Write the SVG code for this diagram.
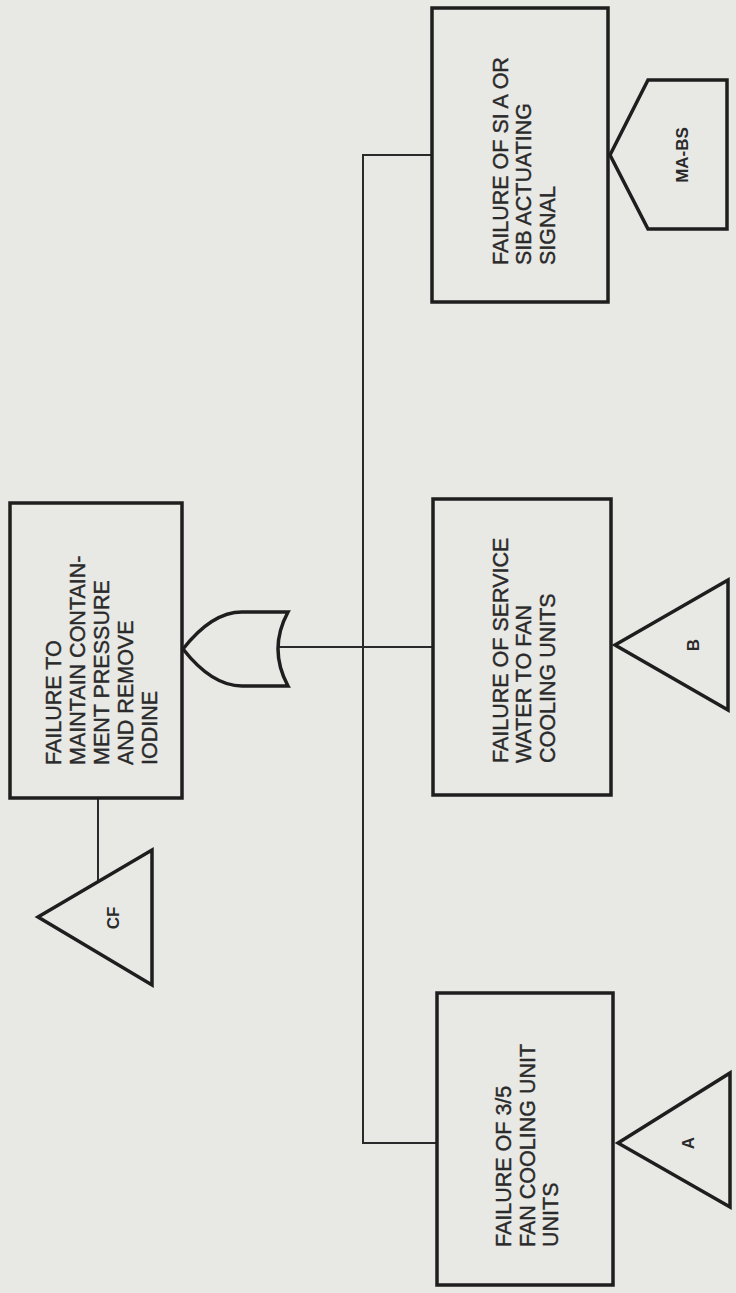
<svg xmlns="http://www.w3.org/2000/svg" width="736" height="1293" viewBox="0 0 736 1293">
<style>
.bg{fill:#e8e8e5}
.box{fill:#e8e8e5;stroke:#1e1e1e;stroke-width:3.5}
.sym{fill:#e8e8e5;stroke:#1e1e1e;stroke-width:3.5;stroke-linejoin:miter}
.wire{fill:none;stroke:#2a2a2a;stroke-width:2}
.t{font-family:"Liberation Sans",Arial,sans-serif;font-size:21.5px;fill:#2a2a2a;stroke:#2a2a2a;stroke-width:0.4}
.lbl{font-family:"Liberation Sans",Arial,sans-serif;font-size:17px;font-weight:bold;fill:#2a2a2a;text-anchor:middle}
</style>
<rect class="bg" x="0" y="0" width="736" height="1293"/>
<g id="connectors">
<line class="wire" x1="98" y1="798" x2="98" y2="882"/>
<line class="wire" x1="279" y1="647" x2="433" y2="647"/>
<polyline class="wire" points="433,155 363,155 363,1143 437,1143"/>
</g>
<g id="top-event">
<rect class="box" x="10" y="503" width="172" height="295"/>
<g class="t">
<text transform="translate(61,765) rotate(-90)">FAILURE TO</text>
<text transform="translate(85,765) rotate(-90)">MAINTAIN CONTAIN-</text>
<text transform="translate(109,765) rotate(-90)">MENT PRESSURE</text>
<text transform="translate(133,765) rotate(-90)">AND REMOVE</text>
<text transform="translate(157,765) rotate(-90)">IODINE</text>
</g>
</g>
<g id="or-gate">
<path class="sym" d="M183,649 Q212,612 242,612 L288,612 Q268,649 288,686 L242,686 Q212,686 183,649 Z"/>
</g>
<g id="transfer-CF">
<polygon class="sym" points="38,917 152,850 152,985"/>
<text class="lbl" transform="translate(113,918) rotate(-90)" dy="6">CF</text>
</g>
<g id="si-signal">
<rect class="box" x="432" y="8" width="176" height="294"/>
<g class="t">
<text transform="translate(508,265) rotate(-90)">FAILURE OF SI A OR</text>
<text transform="translate(531,265) rotate(-90)">SIB ACTUATING</text>
<text transform="translate(555,265) rotate(-90)">SIGNAL</text>
</g>
</g>
<g id="transfer-MA-BS">
<polygon class="sym" points="610,155 648,80 727,80 727,229 648,229"/>
<text class="lbl" transform="translate(682,155) rotate(-90)" dy="6">MA-BS</text>
</g>
<g id="service-water">
<rect class="box" x="433" y="499" width="178" height="296"/>
<g class="t">
<text transform="translate(508,763) rotate(-90)">FAILURE OF SERVICE</text>
<text transform="translate(531,763) rotate(-90)">WATER TO FAN</text>
<text transform="translate(555,763) rotate(-90)">COOLING UNITS</text>
</g>
</g>
<g id="transfer-B">
<polygon class="sym" points="615,645 728,580 728,710"/>
<text class="lbl" transform="translate(693,645) rotate(-90)" dy="6">B</text>
</g>
<g id="fan-cooling">
<rect class="box" x="437" y="993" width="176" height="292"/>
<g class="t">
<text transform="translate(511,1247) rotate(-90)">FAILURE OF 3/5</text>
<text transform="translate(535,1247) rotate(-90)">FAN COOLING UNIT</text>
<text transform="translate(558,1247) rotate(-90)">UNITS</text>
</g>
</g>
<g id="transfer-A">
<polygon class="sym" points="618,1143 730,1073 730,1207"/>
<text class="lbl" transform="translate(688,1143) rotate(-90)" dy="6">A</text>
</g>
</svg>
